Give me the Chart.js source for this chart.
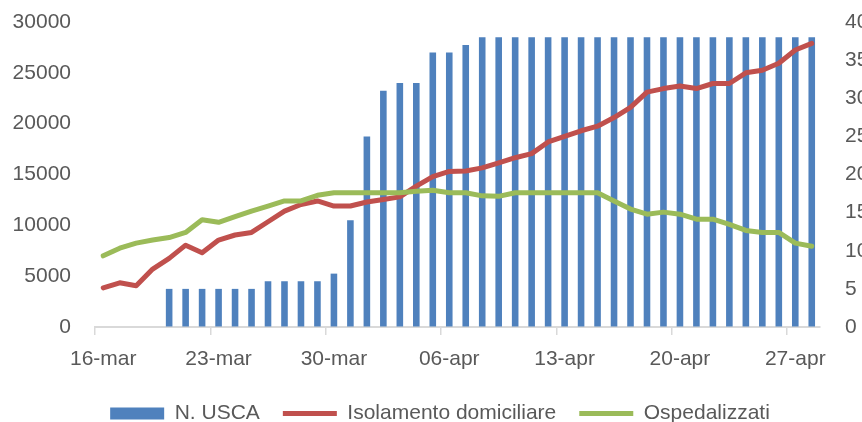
<!DOCTYPE html>
<html>
<head>
<meta charset="utf-8">
<script src="https://cdn.jsdelivr.net/npm/chart.js@4.4.1/dist/chart.umd.min.js"></script>
<style>
  html, body { margin: 0; padding: 0; background: #ffffff; overflow: hidden; }
  #wrap { width: 880px; height: 434px; }
  canvas { display: block; }
</style>
</head>
<body>
<div id="wrap"><canvas id="chart" width="880" height="434" style="width:880px;height:434px"></canvas></div>
<script>
// Days from 16 March to 28 April
const categories = [
  '16-mar','17-mar','18-mar','19-mar','20-mar','21-mar','22-mar','23-mar',
  '24-mar','25-mar','26-mar','27-mar','28-mar','29-mar','30-mar','31-mar',
  '01-apr','02-apr','03-apr','04-apr','05-apr','06-apr','07-apr','08-apr',
  '09-apr','10-apr','11-apr','12-apr','13-apr','14-apr','15-apr','16-apr',
  '17-apr','18-apr','19-apr','20-apr','21-apr','22-apr','23-apr','24-apr',
  '25-apr','26-apr','27-apr','28-apr'
];

// Number of active USCA units (right axis)
const uscaUnits = [
  null, null, null, null, 5, 5, 5, 5,
  5, 5, 6, 6, 6, 6, 7, 14,
  25, 31, 32, 32, 36, 36, 37, 38,
  38, 38, 38, 38, 38, 38, 38, 38,
  38, 38, 38, 38, 38, 38, 38, 38,
  38, 38, 38, 38
];

// People in home isolation (left axis)
const isolamento = [
  3850, 4350, 4050, 5700, 6750, 8050, 7300, 8550,
  9050, 9300, 10350, 11400, 12050, 12400, 11900, 11900,
  12300, 12550, 12800, 13850, 14800, 15300, 15350, 15650,
  16150, 16650, 17050, 18200, 18750, 19300, 19750, 20600,
  21600, 23100, 23450, 23700, 23450, 23950, 23950, 25000,
  25250, 25950, 27250, 27900
];

// Hospitalised patients (left axis)
const ospedalizzati = [
  7000, 7750, 8250, 8550, 8800, 9300, 10550, 10300,
  10850, 11400, 11900, 12400, 12400, 12950, 13200, 13200,
  13200, 13200, 13200, 13350, 13450, 13200, 13200, 12900,
  12850, 13200, 13200, 13200, 13200, 13200, 13200, 12400,
  11600, 11100, 11300, 11100, 10600, 10600, 10100, 9500,
  9300, 9300, 8250, 7950
];

const leftTicks = { min: 0, max: 30000, step: 5000 };
const rightTicks = { min: 0, max: 40, step: 5 };

const FONT = "'Liberation Sans', Arial, sans-serif";
const TEXT = '#595959';
const NONE = 'rgba(0,0,0,0)';
const plainNumber = v => String(v);

new Chart(document.getElementById('chart'), {
  data: {
    labels: categories,
    datasets: [
      {
        type: 'bar',
        label: 'N. USCA',
        data: uscaUnits,
        yAxisID: 'y1',
        backgroundColor: '#4f81bd',
        borderWidth: 0,
        barPercentage: 0.4,
        categoryPercentage: 1.0,
        order: 3
      },
      {
        type: 'line',
        label: 'Isolamento domiciliare',
        data: isolamento,
        yAxisID: 'y',
        borderColor: '#c0504d',
        backgroundColor: '#c0504d',
        borderWidth: 5,
        pointRadius: 0,
        tension: 0,
        borderJoinStyle: 'round',
        borderCapStyle: 'round',
        order: 2
      },
      {
        type: 'line',
        label: 'Ospedalizzati',
        data: ospedalizzati,
        yAxisID: 'y',
        borderColor: '#9bbb59',
        backgroundColor: '#9bbb59',
        borderWidth: 5,
        pointRadius: 0,
        tension: 0,
        borderJoinStyle: 'round',
        borderCapStyle: 'round',
        order: 1
      }
    ]
  },
  options: {
    responsive: false,
    animation: false,
    devicePixelRatio: 1,
    layout: { padding: { left: 0, right: 0, top: 22, bottom: 0 } },
    plugins: {
      tooltip: { enabled: false },
      legend: {
        position: 'bottom',
        align: 'center',
        labels: {
          usePointStyle: true,
          pointStyleWidth: 54,
          boxHeight: 12,
          padding: 23,
          color: TEXT,
          font: { family: FONT, size: 21 },
          generateLabels(chart) {
            const items = Chart.defaults.plugins.legend.labels.generateLabels(chart);
            items.forEach(it => {
              const ds = chart.data.datasets[it.datasetIndex];
              it.pointStyle = ds.type === 'bar' ? 'rect' : 'line';
              if (ds.type === 'bar') it.lineWidth = 0;
            });
            return items.sort((a, b) => a.datasetIndex - b.datasetIndex);
          }
        }
      }
    },
    scales: {
      x: {
        type: 'category',
        offset: true,
        grid: {
          offset: true,
          drawOnChartArea: false,
          drawTicks: true,
          tickLength: 8,
          lineWidth: 1.5,
          color: ctx => (typeof ctx.index === 'number' && ctx.index % 7 === 0) ? '#d9d9d9' : NONE
        },
        border: { display: true, color: '#d9d9d9', width: 2 },
        ticks: {
          autoSkip: false,
          maxRotation: 0,
          minRotation: 0,
          padding: 12,
          color: TEXT,
          font: { family: FONT, size: 21 },
          callback(value, index) {
            return index % 7 === 0 ? this.getLabelForValue(value) : '';
          }
        },
        afterFit(scale) { scale.height = 53; }
      },
      y: {
        position: 'left',
        min: leftTicks.min,
        max: leftTicks.max,
        grid: { display: true, drawOnChartArea: false, tickLength: 24, color: NONE },
        border: { display: false },
        ticks: {
          stepSize: leftTicks.step,
          padding: 0,
          color: TEXT,
          font: { family: FONT, size: 21 },
          callback: plainNumber
        },
        afterFit(scale) { scale.width = 95; }
      },
      y1: {
        position: 'right',
        min: rightTicks.min,
        max: rightTicks.max,
        grid: { display: true, drawOnChartArea: false, tickLength: 25, color: NONE },
        border: { display: false },
        ticks: {
          stepSize: rightTicks.step,
          padding: 0,
          color: TEXT,
          font: { family: FONT, size: 21 },
          callback: plainNumber
        },
        afterFit(scale) { scale.width = 60; }
      }
    }
  }
});
</script>
</body>
</html>
